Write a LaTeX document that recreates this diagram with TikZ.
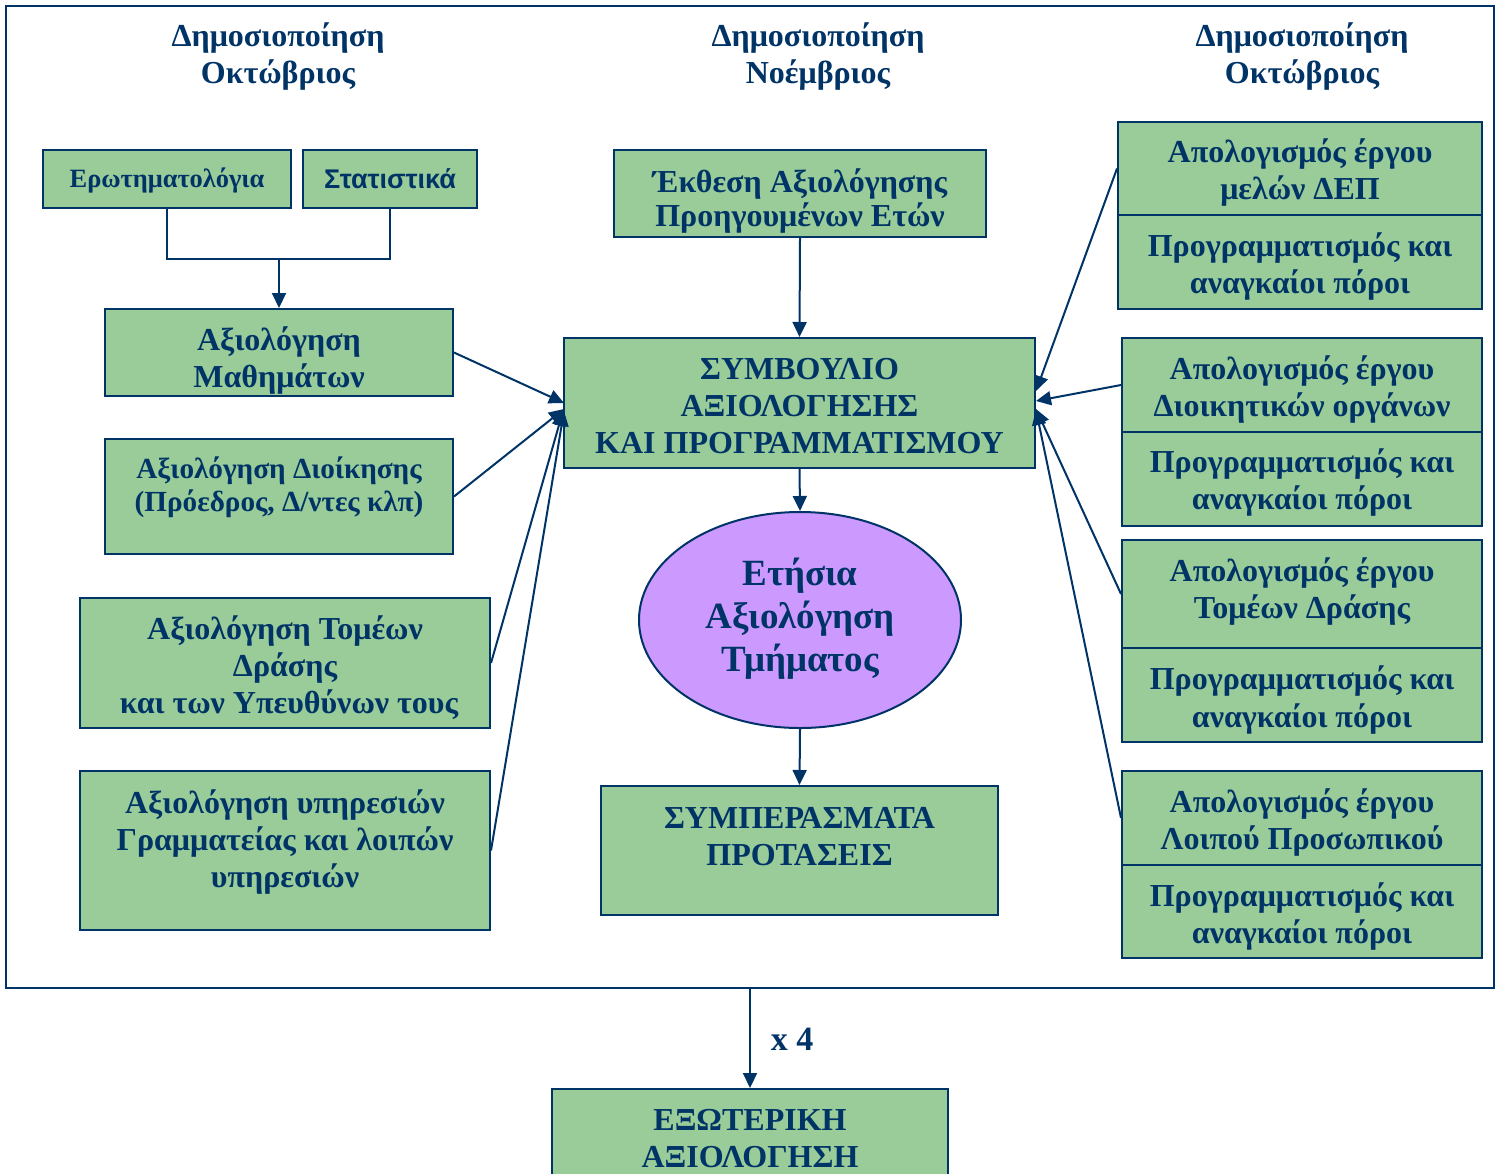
\documentclass[tikz,border=0pt]{standalone}
\usepackage{fontspec}
\setmainfont{Liberation Serif}
\newfontfamily\sansgr{Liberation Sans}
\usetikzlibrary{arrows.meta,shapes.geometric,calc}
\definecolor{navy}{HTML}{003366}
\definecolor{boxgreen}{HTML}{99CC99}
\definecolor{lilac}{HTML}{CC99FF}
\begin{document}
\begin{tikzpicture}[x=0.5pt,y=-0.5pt,
  box/.style={draw=navy, fill=boxgreen, line width=1pt, rectangle, inner sep=0pt},
  txt/.style={text=navy, align=center, font=\fontsize{16}{18.5}\selectfont\bfseries, inner sep=0pt, yshift=-1pt},
  smalltxt/.style={txt, font=\fontsize{14.6}{16.5}\selectfont\bfseries},
  conn/.style={draw=navy, line width=1pt},
  arr/.style={conn, -{Triangle[length=7.5pt,width=7pt]}},
]
\useasboundingbox (0,0) rectangle (1502,1173);
\clip (0,0) rectangle (1502,1173);

% outer frame
\node[draw=navy, line width=1pt, minimum width=744pt, minimum height=491pt, inner sep=0pt] (frame) at (750,497) {};

% headings
\node[txt] (h1) at (278,55) {Δημοσιοποίηση\\Οκτώβριος};
\node[txt] (h2) at (818,55) {Δημοσιοποίηση\\Νοέμβριος};
\node[txt] (h3) at (1302,55) {Δημοσιοποίηση\\Οκτώβριος};

% left column
\node[box, minimum width=124pt, minimum height=29pt] (erot) at (167,179) {};
\node[txt, font=\fontsize{13.2}{15}\selectfont\bfseries] (erotT) at (167,178) {Ερωτηματολόγια};
\node[box, minimum width=87pt, minimum height=29pt] (stat) at (390,179) {};
\node[txt, font=\fontsize{13.5}{15}\selectfont\sansgr\bfseries] (statT) at (390,177) {Στατιστικά};

\node[box, minimum width=174pt, minimum height=43.5pt] (math) at (279,352.5) {};
\node[txt] (mathT) at (279,358.5) {Αξιολόγηση\\Μαθημάτων};

\node[box, minimum width=174pt, minimum height=57.5pt] (dioik) at (279,496.5) {};
\node[smalltxt] (dioikT) at (279,485.5) {Αξιολόγηση Διοίκησης\\(Πρόεδρος, Δ/ντες κλπ)};

\node[box, minimum width=205pt, minimum height=65pt] (tomeon) at (285,663) {};
\node[txt] (tomeonT) at (285,666) {Αξιολόγηση Τομέων\\Δράσης\\\ και των Υπευθύνων τους};

\node[box, minimum width=205pt, minimum height=79.5pt] (ypir) at (285,850.5) {};
\node[txt] (ypirT) at (285,840) {Αξιολόγηση υπηρεσιών\\Γραμματείας και λοιπών\\υπηρεσιών};

% middle column
\node[box, minimum width=186pt, minimum height=43.5pt] (ekth) at (800,193.5) {};
\node[txt, font=\fontsize{16}{17}\selectfont\bfseries] (ekthT) at (800,199) {Έκθεση Αξιολόγησης\\Προηγουμένων Ετών};

\node[box, minimum width=235.5pt, minimum height=65pt] (symb) at (799.5,403) {};
\node[txt] (symbT) at (799.5,404.5) {ΣΥΜΒΟΥΛΙΟ\\ΑΞΙΟΛΟΓΗΣΗΣ\\ΚΑΙ ΠΡΟΓΡΑΜΜΑΤΙΣΜΟΥ};

\node[draw=navy, fill=lilac, ellipse, line width=1pt, minimum width=161pt, minimum height=108pt, inner sep=0pt] (ell) at (800,620) {};
\node[txt, font=\fontsize{18.5}{21.5}\selectfont\bfseries] (ellT) at (800,617) {Ετήσια\\Αξιολόγηση\\Τμήματος};

\node[box, minimum width=198.5pt, minimum height=64.5pt] (symp) at (799.5,850.5) {};
\node[txt] (sympT) at (799.5,834.5) {ΣΥΜΠΕΡΑΣΜΑΤΑ\\ΠΡΟΤΑΣΕΙΣ};

% right column
\node[box, minimum width=182pt, minimum height=46.5pt] (r1a) at (1300,168.5) {};
\node[txt] (r1aT) at (1300,171) {Απολογισμός έργου\\μελών ΔΕΠ};
\node[box, minimum width=182pt, minimum height=47pt] (r1b) at (1300,262) {};
\node[txt] (r1bT) at (1300,265) {Προγραμματισμός και\\αναγκαίοι πόροι};

\node[box, minimum width=180pt, minimum height=47pt] (r2a) at (1302,385) {};
\node[txt] (r2aT) at (1302,387.5) {Απολογισμός έργου\\Διοικητικών οργάνων};
\node[box, minimum width=180pt, minimum height=47pt] (r2b) at (1302,479) {};
\node[txt] (r2bT) at (1302,481) {Προγραμματισμός και\\αναγκαίοι πόροι};

\node[box, minimum width=180pt, minimum height=54pt] (r3a) at (1302,594) {};
\node[txt] (r3aT) at (1302,590) {Απολογισμός έργου\\Τομέων Δράσης};
\node[box, minimum width=180pt, minimum height=47pt] (r3b) at (1302,695) {};
\node[txt] (r3bT) at (1302,698) {Προγραμματισμός και\\αναγκαίοι πόροι};

\node[box, minimum width=180pt, minimum height=47pt] (r4a) at (1302,818) {};
\node[txt] (r4aT) at (1302,820.5) {Απολογισμός έργου\\Λοιπού Προσωπικού};
\node[box, minimum width=180pt, minimum height=46.5pt] (r4b) at (1302,911.5) {};
\node[txt] (r4bT) at (1302,914) {Προγραμματισμός και\\αναγκαίοι πόροι};

% bottom
\node[txt, font=\fontsize{17}{19}\selectfont\bfseries] (x4) at (792,1037) {x 4};
\node[box, minimum width=198pt, minimum height=60.5pt] (ext) at (750,1149.5) {};
\node[txt] (extT) at (750,1136.5) {ΕΞΩΤΕΡΙΚΗ\\ΑΞΙΟΛΟΓΗΣΗ};

% connectors
\coordinate (join) at (279,258);
\draw[conn] (erot.south) -- ++(0,50) -| (stat.south);
\draw[arr] (join) -- (math.north);
\draw[arr] (ekth.south) -- (symb.north);
\draw[arr] (symb.south) -- (ell.north);
\draw[arr] (ell.south) -- (symp.north);
\draw[arr] (frame.south) -- (ext.north);

\draw[arr] (math.east) -- ($(symb.west)+(1,0)$);
\draw[arr] (dioik.east) -- ($(symb.west)+(1,6)$);
\draw[arr] (tomeon.east) -- ($(symb.west)+(0,8)$);
\draw[arr] (ypir.east) -- ($(symb.west)+(1,8)$);

\draw[arr] (r1a.west) -- ($(symb.east)+(0,-12)$);
\draw[arr] (r2a.west) -- ($(symb.east)+(0,-2)$);
\draw[arr] (r3a.west) -- ($(symb.east)+(0,6)$);
\draw[arr] (r4a.west) -- ($(symb.east)+(0,7)$);
\end{tikzpicture}
\end{document}
